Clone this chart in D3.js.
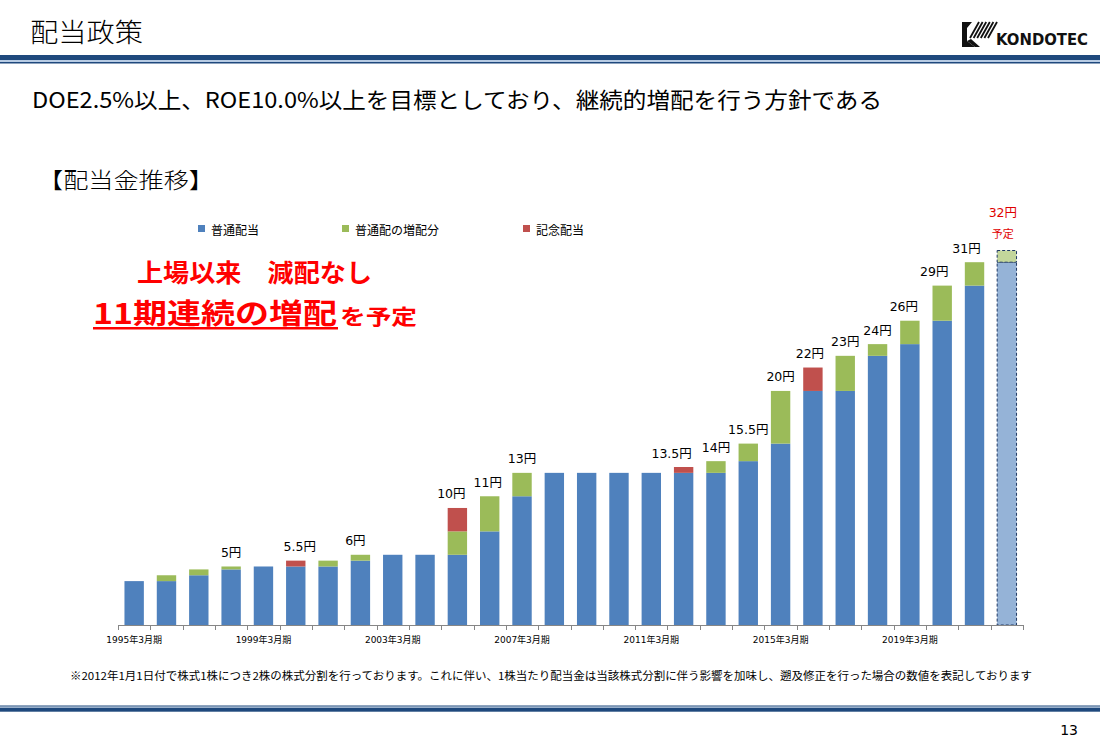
<!DOCTYPE html>
<html><head><meta charset="utf-8">
<script src="https://cdn.jsdelivr.net/npm/d3@7"></script>
<style>body{margin:0;background:#fff}svg{display:block}</style>
</head><body><svg id="c" width="1100" height="754"></svg>
<script>
// ---- data ----
const categories = ["1995","1996","1997","1998","1999","2000","2001","2002","2003","2004","2005","2006","2007","2008","2009","2010","2011","2012","2013","2014","2015","2016","2017","2018","2019","2020","2021","2022"];
const regular    = [3.75,3.75,4.25,4.75,5,5,5,5.5,6,6,6,8,11,13,13,13,13,13,13,14,15.5,20,20,23,24,26,29,31];
const increase   = [0,0.5,0.5,0.25,0,0,0.5,0.5,0,0,2,3,2,0,0,0,0,0,1,1.5,4.5,0,3,1,2,3,2,1];
const commem     = [0,0,0,0,0,0.5,0,0,0,0,2,0,0,0,0,0,0,0.5,0,0,0,2,0,0,0,0,0,0];
const valueLabels= ["","","","5円","","5.5円","","6円","","","10円","11円","13円","","","","","13.5円","14円","15.5円","20円","22円","23円","24円","26円","29円","31円","32円"];
const projected  = "2022";
const tickCats   = ["1995","1999","2003","2007","2011","2015","2019"];
const tickLabels = ["1995年3月期","1999年3月期","2003年3月期","2007年3月期","2011年3月期","2015年3月期","2019年3月期"];
const seriesNames= ["普通配当","普通配の増配分","記念配当"];
const keys = ["regular","increase","commem"];

const table = categories.map((c,i)=>({cat:c, regular:regular[i], increase:increase[i], commem:commem[i], label:valueLabels[i]}));

const colors = {regular:"#4f81bd", increase:"#9bbb59", commem:"#c0504d"};
const projColors = {regular:"#95b3d7", increase:"#c3d69b", commem:"#e6b9b8"};

const svg = d3.select("#c");
const JP = "'Noto Sans CJK JP','Noto Sans',sans-serif";
const MIX = "'DejaVu Sans','Noto Sans CJK JP',sans-serif";

// ---- header / footer ----
svg.append("text").attr("x",30).attr("y",30).attr("dominant-baseline","central")
  .attr("font-family",JP).attr("font-size",26).attr("font-weight",300).attr("fill","#000")
  .attr("textLength",113).attr("lengthAdjust","spacingAndGlyphs").text("配当政策");
svg.append("rect").attr("x",0).attr("y",55).attr("width",1100).attr("height",5).attr("fill","#1f497d");
svg.append("rect").attr("x",0).attr("y",60).attr("width",1100).attr("height",2).attr("fill","#b8cce4");
svg.append("rect").attr("x",0).attr("y",62).attr("width",1100).attr("height",1.5).attr("fill","#1f497d");

svg.append("rect").attr("x",0).attr("y",705.5).attr("width",1100).attr("height",1.2).attr("fill","#1f497d");
svg.append("rect").attr("x",0).attr("y",706.7).attr("width",1100).attr("height",1).attr("fill","#b8cce4");
svg.append("rect").attr("x",0).attr("y",707.7).attr("width",1100).attr("height",4).attr("fill","#1f497d");
svg.append("text").attr("x",1078).attr("y",730).attr("text-anchor","end").attr("dominant-baseline","central")
  .attr("font-family","'DejaVu Sans',sans-serif").attr("font-size",14).attr("fill","#000").text("13");

// logo
const logo = svg.append("g");
logo.append("path").attr("d","M962,22 L972,22 L967,28 L967,41 L975,47 L962,47 Z").attr("fill","#111");
logo.append("path").attr("d","M967,41 L975,47 L980,47 L971,39 Z").attr("fill","#111");
for(let k=0;k<6;k++){
  logo.append("line").attr("x1",970+k*3.6).attr("y1",38).attr("x2",979+k*3.6).attr("y2",22)
    .attr("stroke","#111").attr("stroke-width",1.8);
}
logo.append("text").attr("x",996).attr("y",45).attr("font-family","'DejaVu Sans',sans-serif")
  .attr("font-weight","bold").attr("font-size",15).attr("fill","#111")
  .attr("textLength",92).attr("lengthAdjust","spacingAndGlyphs").text("KONDOTEC");

// subtitle
svg.append("text").attr("x",32).attr("y",98).attr("dominant-baseline","central")
  .attr("font-family",JP).attr("font-size",22).attr("fill","#000")
  .attr("textLength",850).attr("lengthAdjust","spacingAndGlyphs")
  .text("DOE2.5%以上、ROE10.0%以上を目標としており、継続的増配を行う方針である");
svg.append("text").attr("x",38).attr("y",178).attr("dominant-baseline","central")
  .attr("font-family",JP).attr("font-size",22).attr("font-weight",300).attr("fill","#000")
  .attr("textLength",176).attr("lengthAdjust","spacingAndGlyphs").text("【配当金推移】");

// red annotation
svg.append("text").attr("x",137).attr("y",271).attr("dominant-baseline","central")
  .attr("font-family",JP).attr("font-weight","bold").attr("font-size",25).attr("fill","#ff0000")
  .attr("textLength",235).attr("lengthAdjust","spacingAndGlyphs").text("上場以来　減配なし");
svg.append("text").attr("x",93).attr("y",312).attr("dominant-baseline","central")
  .attr("font-family",JP).attr("font-weight","bold").attr("font-size",28).attr("fill","#ff0000")
  .attr("textLength",244).attr("lengthAdjust","spacingAndGlyphs").text("11期連続の増配");
svg.append("rect").attr("x",93).attr("y",327).attr("width",245).attr("height",2.5).attr("fill","#ff0000");
svg.append("text").attr("x",340).attr("y",315).attr("dominant-baseline","central")
  .attr("font-family",JP).attr("font-weight","bold").attr("font-size",21).attr("fill","#ff0000")
  .attr("textLength",77).attr("lengthAdjust","spacingAndGlyphs").text("を予定");

// ---- chart ----
const x = d3.scaleBand().domain(categories).range([118,1023]).paddingInner(0.4).paddingOuter(0.2);
const y = d3.scaleLinear().domain([0,32]).range([625,250.5]);

const stacked = d3.stack().keys(keys)(table);
const gBars = svg.append("g");
stacked.forEach(layer=>{
  gBars.selectAll(null).data(layer.filter(d=>d[1]-d[0]>0)).join("rect")
    .attr("x",d=>x(d.data.cat)).attr("width",x.bandwidth())
    .attr("y",d=>y(d[1])).attr("height",d=>y(d[0])-y(d[1]))
    .attr("fill",d=>d.data.cat===projected?projColors[layer.key]:colors[layer.key])
    .attr("stroke",d=>d.data.cat===projected?"#1f3864":"none")
    .attr("stroke-width",1).attr("stroke-dasharray","3,2");
});

// axis line and boundary ticks
const step = x.step();
const gAx = svg.append("g").attr("stroke","#868686").attr("stroke-width",1);
gAx.append("line").attr("x1",x.range()[0]).attr("x2",x.range()[1]).attr("y1",625.5).attr("y2",625.5);
const bounds = categories.map(c=>x(c)-(step-x.bandwidth())/2).concat([x.range()[1]]);
gAx.selectAll(null).data(bounds).join("line")
  .attr("x1",d=>Math.round(d)+0.5).attr("x2",d=>Math.round(d)+0.5).attr("y1",625).attr("y2",630);

// tick labels via axis
const axis = d3.axisBottom(x).tickValues(tickCats).tickSize(0).tickPadding(0)
  .tickFormat(c=>tickLabels[tickCats.indexOf(c)]);
const gA = svg.append("g").attr("transform","translate(0,640)").call(axis);
gA.select(".domain").remove();
gA.selectAll("text").attr("font-family",MIX).attr("font-size",9).attr("fill","#000").attr("dy","0.32em").attr("y",0);

// value labels (small manual nudges as placed on the original slide)
const nudge = {"2000":4,"2002":-5,"2005":-6,"2006":-2,"2012":-12,"2016":-3,"2019":-6,"2020":-8,"2021":-8};
svg.append("g").selectAll(null).data(table.filter(d=>d.label && d.cat!==projected)).join("text")
  .attr("x",d=>x(d.cat)+x.bandwidth()/2+(nudge[d.cat]||0))
  .attr("y",d=>y(d.regular+d.increase+d.commem)-14)
  .attr("text-anchor","middle").attr("dominant-baseline","central")
  .attr("font-family",MIX).attr("font-size",12.5).attr("fill","#000").text(d=>d.label);
const proj = table.find(d=>d.cat===projected);
svg.append("text").attr("x",x(projected)+x.bandwidth()/2-4).attr("y",212)
  .attr("text-anchor","middle").attr("dominant-baseline","central")
  .attr("font-family",MIX).attr("font-size",12.5).attr("fill","#e00000").text(proj.label);
svg.append("text").attr("x",x(projected)+x.bandwidth()/2-4).attr("y",233)
  .attr("text-anchor","middle").attr("dominant-baseline","central")
  .attr("font-family",JP).attr("font-size",11).attr("fill","#e00000").text("予定");

// legend
const legX = [198,342,523];
const gL = svg.append("g");
seriesNames.forEach((n,i)=>{
  gL.append("rect").attr("x",legX[i]).attr("y",225).attr("width",7).attr("height",7).attr("fill",colors[keys[i]]);
  gL.append("text").attr("x",legX[i]+13).attr("y",229).attr("dominant-baseline","central")
    .attr("font-family",JP).attr("font-size",12).attr("fill","#000").text(n);
});

// footnote
svg.append("text").attr("x",70).attr("y",675).attr("dominant-baseline","central")
  .attr("font-family",JP).attr("font-size",11).attr("fill","#000")
  .attr("textLength",962).attr("lengthAdjust","spacingAndGlyphs")
  .text("※2012年1月1日付で株式1株につき2株の株式分割を行っております。これに伴い、1株当たり配当金は当該株式分割に伴う影響を加味し、遡及修正を行った場合の数値を表記しております");
</script></body></html>
